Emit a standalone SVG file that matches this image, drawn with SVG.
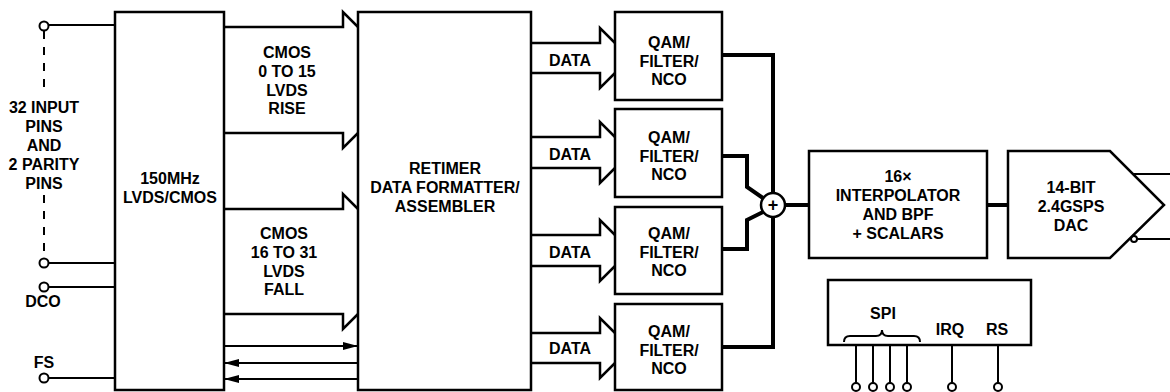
<svg xmlns="http://www.w3.org/2000/svg" width="1170" height="392" viewBox="0 0 1170 392">
<style>
.box{fill:#fff;stroke:#000;stroke-width:2.5}
.ln{fill:none;stroke:#000;stroke-width:2.5}
.thin{fill:none;stroke:#000;stroke-width:2}
.thick{fill:none;stroke:#000;stroke-width:4}
.dash{fill:none;stroke:#000;stroke-width:2;stroke-dasharray:8 8}
.pin{fill:#fff;stroke:#000;stroke-width:2}
.t{font-family:"Liberation Sans",Arial,Helvetica,sans-serif;font-weight:bold;font-size:16px;text-anchor:middle;fill:#000}
</style>
<defs>
<marker id="ah" viewBox="0 0 15 8" refX="15" refY="4" markerWidth="15" markerHeight="8" markerUnits="userSpaceOnUse" orient="auto">
<path d="M0,0 L15,4 L0,8 z" fill="#000"/>
</marker>
</defs>
<rect width="1170" height="392" fill="#fff"/>

<g id="connectors">
<path class="thin" d="M48,25 H115"/>
<path class="dash" d="M44,31 V94"/>
<path class="dash" d="M44,195 V259"/>
<path class="thin" d="M48,263 H115"/>
<path class="thin" d="M48,287 H115"/>
<path class="thin" d="M48,378 H115"/>
<path class="ln" d="M224,27 H343 V12 L358,27"/>
<path class="ln" d="M224,133 H343 V148 L358,133"/>
<path class="ln" d="M224,209 H343 V194 L358,209"/>
<path class="ln" d="M224,314 H343 V329 L358,314"/>
<path class="thin" d="M224,346 H358" marker-end="url(#ah)"/>
<path class="thin" d="M358,363 H224" marker-end="url(#ah)"/>
<path class="thin" d="M358,379 H224" marker-end="url(#ah)"/>
<path class="ln" d="M531,43 H600 V28 L615,43"/>
<path class="ln" d="M531,73 H600 V88 L615,73"/>
<path class="ln" d="M531,137 H600 V122 L615,137"/>
<path class="ln" d="M531,168 H600 V183 L615,168"/>
<path class="ln" d="M531,235 H600 V220 L615,235"/>
<path class="ln" d="M531,266 H600 V281 L615,266"/>
<path class="ln" d="M531,333 H600 V318 L615,333"/>
<path class="ln" d="M531,363 H600 V378 L615,363"/>
<path class="thick" d="M722,55 H773 V347 H722"/>
<path class="thick" d="M722,156 H747 V187 L763,198"/>
<path class="thick" d="M722,249 H747 V220 L763,212"/>
<path class="thick" d="M785,205 H809"/>
<path class="thick" d="M987,205 H1008"/>
<path class="thin" d="M1133,174 H1170"/>
<path class="thin" d="M1137,239 H1170"/>
<circle cx="1134" cy="239" r="3" class="pin"/>
<path class="thin" d="M856,345 V383 M873,345 V383 M890,345 V383 M907,345 V383 M952,345 V383 M998,345 V383"/>
</g>

<g id="pins">
<circle cx="44" cy="26" r="4.5" class="pin"/>
<circle cx="44" cy="263" r="4.5" class="pin"/>
<circle cx="44" cy="287" r="4.5" class="pin"/>
<circle cx="44" cy="378" r="4.5" class="pin"/>
<text class="t" x="44" y="113">32 INPUT</text>
<text class="t" x="44" y="132">PINS</text>
<text class="t" x="44" y="151">AND</text>
<text class="t" x="44" y="170">2 PARITY</text>
<text class="t" x="44" y="189">PINS</text>
<text class="t" x="43" y="307">DCO</text>
<text class="t" x="44" y="368">FS</text>
</g>

<g id="lvds">
<rect class="box" x="115" y="12" width="109" height="378"/>
<text class="t" x="170" y="184">150MHz</text>
<text class="t" x="170" y="203">LVDS/CMOS</text>
</g>

<g id="bus-labels">
<text class="t" x="287" y="58">CMOS</text>
<text class="t" x="287" y="77">0 TO 15</text>
<text class="t" x="287" y="96">LVDS</text>
<text class="t" x="287" y="114">RISE</text>
<text class="t" x="284" y="239">CMOS</text>
<text class="t" x="284" y="258">16 TO 31</text>
<text class="t" x="284" y="277">LVDS</text>
<text class="t" x="284" y="295">FALL</text>
<text class="t" x="570" y="66">DATA</text>
<text class="t" x="570" y="160">DATA</text>
<text class="t" x="570" y="258">DATA</text>
<text class="t" x="570" y="354">DATA</text>
</g>

<g id="retimer">
<rect class="box" x="358" y="12" width="173" height="378"/>
<text class="t" x="445" y="174">RETIMER</text>
<text class="t" x="445" y="193">DATA FORMATTER/</text>
<text class="t" x="445" y="212">ASSEMBLER</text>
</g>

<g id="qam1">
<rect class="box" x="615" y="12" width="107" height="88"/>
<text class="t" x="669" y="47.5">QAM/</text>
<text class="t" x="669" y="66.5">FILTER/</text>
<text class="t" x="669" y="84.5">NCO</text>
</g>
<g id="qam2">
<rect class="box" x="615" y="109" width="107" height="88"/>
<text class="t" x="669" y="142.5">QAM/</text>
<text class="t" x="669" y="161.5">FILTER/</text>
<text class="t" x="669" y="179.5">NCO</text>
</g>
<g id="qam3">
<rect class="box" x="615" y="207" width="107" height="87"/>
<text class="t" x="669" y="238.5">QAM/</text>
<text class="t" x="669" y="257.5">FILTER/</text>
<text class="t" x="669" y="275.5">NCO</text>
</g>
<g id="qam4">
<rect class="box" x="615" y="304" width="107" height="86"/>
<text class="t" x="669" y="336.5">QAM/</text>
<text class="t" x="669" y="355.5">FILTER/</text>
<text class="t" x="669" y="373.5">NCO</text>
</g>

<g id="summer">
<circle cx="773" cy="205" r="12" class="box"/>
<text class="t" x="773" y="211" style="font-size:18px">+</text>
</g>

<g id="interp">
<rect class="box" x="809" y="151" width="178" height="107"/>
<text class="t" x="898" y="181.5">16×</text>
<text class="t" x="898" y="200.5">INTERPOLATOR</text>
<text class="t" x="898" y="219.5">AND BPF</text>
<text class="t" x="898" y="238.5">+ SCALARS</text>
</g>

<g id="dac">
<polygon class="box" points="1008,151 1110,151 1164,205 1110,258 1008,258"/>
<text class="t" x="1071" y="192.5">14-BIT</text>
<text class="t" x="1071" y="211.5">2.4GSPS</text>
<text class="t" x="1071" y="230.5">DAC</text>
</g>

<g id="control">
<rect class="box" x="828" y="280" width="203" height="65"/>
<text class="t" x="883" y="318.5">SPI</text>
<text class="t" x="950" y="334.5">IRQ</text>
<text class="t" x="997" y="334.5">RS</text>
<path class="thin" d="M844,342 Q844,336 850,336 H876 Q882,336 882,330 Q882,336 888,336 H914 Q920,336 920,342"/>
<circle cx="856" cy="387" r="4" class="pin"/>
<circle cx="873" cy="387" r="4" class="pin"/>
<circle cx="890" cy="387" r="4" class="pin"/>
<circle cx="907" cy="387" r="4" class="pin"/>
<circle cx="952" cy="387" r="4" class="pin"/>
<circle cx="998" cy="387" r="4" class="pin"/>
</g>
</svg>
